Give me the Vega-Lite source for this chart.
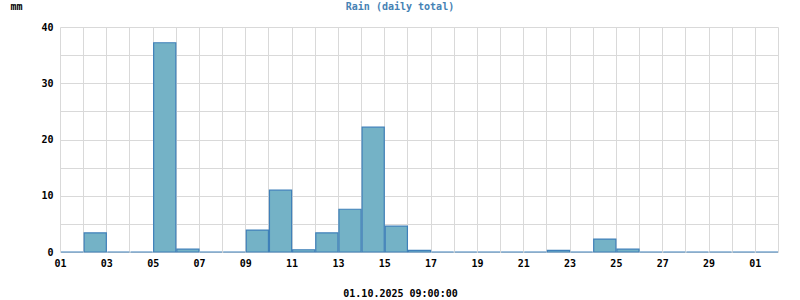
{
  "$schema": "https://vega.github.io/schema/vega-lite/v6.json",
  "width": 718,
  "height": 225,
  "autosize": {"type": "none"},
  "padding": {"left": 60, "top": 27, "right": 22, "bottom": 48},
  "background": "white",
  "title": {
    "text": "Rain (daily total)",
    "font": "DejaVu Sans Mono",
    "fontSize": 10,
    "fontWeight": "bold",
    "color": "#4682b4",
    "anchor": "middle",
    "dx": -19,
    "offset": -11
  },
  "config": {
    "view": {"stroke": null},
    "axis": {
      "labelFont": "DejaVu Sans Mono",
      "labelFontSize": 10,
      "labelFontWeight": "bold",
      "labelColor": "#000000",
      "titleFont": "DejaVu Sans Mono",
      "titleFontSize": 10,
      "titleFontWeight": "bold",
      "titleColor": "#000000",
      "gridColor": "#d9d9d9",
      "gridWidth": 1,
      "gridOpacity": 1,
      "ticks": false,
      "domain": false
    }
  },
  "data": {
    "values": [
      {"date": "2025-09-01", "rain": 0},
      {"date": "2025-09-02", "rain": 3.4},
      {"date": "2025-09-03", "rain": 0},
      {"date": "2025-09-04", "rain": 0},
      {"date": "2025-09-05", "rain": 37.2},
      {"date": "2025-09-06", "rain": 0.5},
      {"date": "2025-09-07", "rain": 0},
      {"date": "2025-09-08", "rain": 0},
      {"date": "2025-09-09", "rain": 3.9},
      {"date": "2025-09-10", "rain": 11.0},
      {"date": "2025-09-11", "rain": 0.4},
      {"date": "2025-09-12", "rain": 3.4},
      {"date": "2025-09-13", "rain": 7.6},
      {"date": "2025-09-14", "rain": 22.2},
      {"date": "2025-09-15", "rain": 4.6},
      {"date": "2025-09-16", "rain": 0.3},
      {"date": "2025-09-17", "rain": 0},
      {"date": "2025-09-18", "rain": 0},
      {"date": "2025-09-19", "rain": 0},
      {"date": "2025-09-20", "rain": 0},
      {"date": "2025-09-21", "rain": 0},
      {"date": "2025-09-22", "rain": 0.3},
      {"date": "2025-09-23", "rain": 0},
      {"date": "2025-09-24", "rain": 2.3},
      {"date": "2025-09-25", "rain": 0.5},
      {"date": "2025-09-26", "rain": 0},
      {"date": "2025-09-27", "rain": 0},
      {"date": "2025-09-28", "rain": 0},
      {"date": "2025-09-29", "rain": 0},
      {"date": "2025-09-30", "rain": 0},
      {"date": "2025-10-01", "rain": 0}
    ]
  },
  "mark": {
    "type": "bar",
    "fill": "#74b2c6",
    "stroke": "#3f80b9",
    "strokeWidth": 1.2,
    "clip": false
  },
  "encoding": {
    "x": {
      "field": "date",
      "type": "temporal",
      "timeUnit": "utcyearmonthdate",
      "scale": {"type": "utc", "domain": ["2025-09-01", "2025-10-02"], "nice": false},
      "axis": {
        "values": ["2025-09-01","2025-09-02","2025-09-03","2025-09-04","2025-09-05","2025-09-06","2025-09-07","2025-09-08","2025-09-09","2025-09-10","2025-09-11","2025-09-12","2025-09-13","2025-09-14","2025-09-15","2025-09-16","2025-09-17","2025-09-18","2025-09-19","2025-09-20","2025-09-21","2025-09-22","2025-09-23","2025-09-24","2025-09-25","2025-09-26","2025-09-27","2025-09-28","2025-09-29","2025-09-30","2025-10-01","2025-10-02"],
        "labelExpr": "utcdate(datum.value) % 2 == 1 ? utcFormat(datum.value, '%d') : ''",
        "labelPadding": 6,
        "labelOverlap": false,
        "labelFlush": false,
        "title": "01.10.2025 09:00:00",
        "titleX": 340,
        "titleAnchor": "start",
        "titleAlign": "center",
        "titlePadding": 20
      }
    },
    "y": {
      "field": "rain",
      "type": "quantitative",
      "scale": {"domain": [0, 40], "nice": false},
      "axis": {
        "values": [0, 5, 10, 15, 20, 25, 30, 35, 40],
        "labelExpr": "datum.value % 10 == 0 ? datum.label : ''",
        "labelPadding": 7,
        "title": "mm",
        "titleAngle": 0,
        "titleAnchor": "end",
        "titleAlign": "left",
        "titleBaseline": "middle",
        "titleX": -50,
        "titleY": -21
      }
    }
  }
}
